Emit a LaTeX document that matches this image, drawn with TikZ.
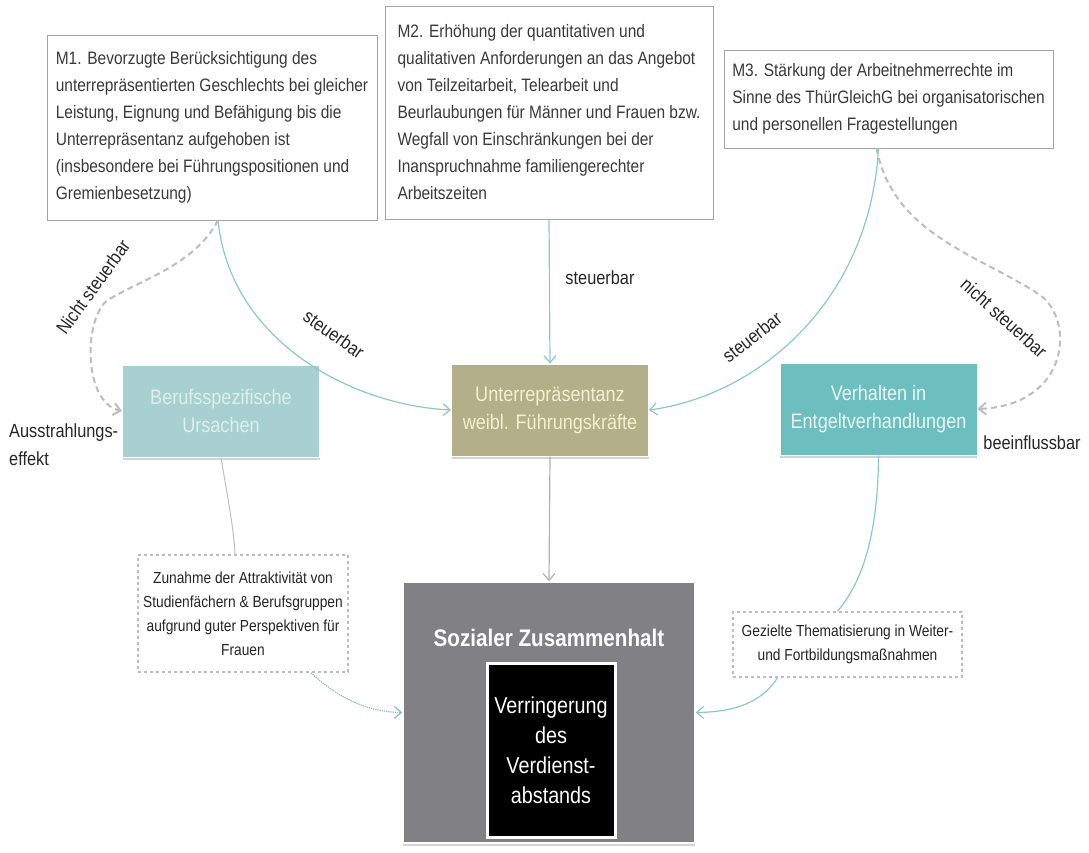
\documentclass[tikz,border=0pt]{standalone}
\usepackage{fontspec}
\setmainfont{Liberation Sans}
\newfontfamily\narrowsans{Liberation Sans}[FakeStretch=0.86]
\usetikzlibrary{arrows.meta,shadows}
\definecolor{mframe}{HTML}{A6A6A6}
\definecolor{mtext}{HTML}{3A3A3A}
\definecolor{berufFill}{HTML}{A9D0D1}
\definecolor{berufText}{HTML}{DDEEEE}
\definecolor{unterFill}{HTML}{B3AF88}
\definecolor{unterText}{HTML}{F3F0D2}
\definecolor{verhFill}{HTML}{6CBFBE}
\definecolor{verhText}{HTML}{EAF6F6}
\definecolor{sozFill}{HTML}{808085}
\definecolor{tealline}{HTML}{8DC9C2}
\definecolor{dashgray}{HTML}{BDBDBD}
\begin{document}
\begin{tikzpicture}[x=1pt,y=-1pt,
  mbox/.style = {draw=mframe, fill=white, text=mtext, align=left, inner sep=0pt,
    font=\narrowsans\fontsize{18}{27}\selectfont},
  cause/.style = {draw=white, line width=1pt, inner sep=0pt, align=center,
    minimum width=197, minimum height=92,
    drop shadow={shadow xshift=0pt, shadow yshift=-3pt, opacity=.35},
    font=\narrowsans\fontsize{21}{28}\selectfont},
  effect/.style = {draw=dashgray, dashed, line width=1.5pt, fill=white, align=center,
    text=black!85, inner sep=0pt, font=\narrowsans\fontsize{16}{24}\selectfont},
  lbl/.style = {text=black!85, inner sep=1pt, font=\narrowsans\fontsize{19}{28}\selectfont},
  link/.style = {draw=tealline, line width=1.2pt, -{Straight Barb[length=7pt,width=12pt]}},
  nolink/.style = {draw=dashgray, dashed, line width=2pt, dash pattern=on 6pt off 4pt,
    -{Straight Barb[length=7pt,width=12pt]}}]
\useasboundingbox (0,0) rectangle (1089,852);

\node[mbox, minimum width=330, minimum height=185] (m1) at (212,127.5)
  {M1. Bevorzugte Berücksichtigung des\\unterrepräsentierten Geschlechts bei gleicher\\Leistung, Eignung und Befähigung bis die\\Unterrepräsentanz aufgehoben ist\\(insbesondere bei Führungspositionen und\\Gremienbesetzung)};
\node[mbox, minimum width=328, minimum height=213] (m2) at (549,112.5)
  {M2. Erhöhung der quantitativen und\\qualitativen Anforderungen an das Angebot\\von Teilzeitarbeit, Telearbeit und\\Beurlaubungen für Männer und Frauen bzw.\\Wegfall von Einschränkungen bei der\\Inanspruchnahme familiengerechter\\Arbeitszeiten};
\node[mbox, minimum width=329, minimum height=98] (m3) at (888.5,99)
  {M3. Stärkung der Arbeitnehmerrechte im\\Sinne des ThürGleichG bei organisatorischen\\und personellen Fragestellungen};

\node[cause, fill=berufFill, text=berufText] (beruf) at (221,411) {Berufsspezifische\\Ursachen};
\node[cause, fill=unterFill, text=unterText] (unter) at (550,410) {Unterrepräsentanz\\weibl. Führungskräfte};
\node[cause, fill=verhFill, text=verhText] (verh) at (878.5,409) {Verhalten in\\Entgeltverhandlungen};

\node[draw=white, line width=1.5pt, fill=sozFill, minimum width=292, minimum height=261,
  drop shadow={shadow xshift=0pt, shadow yshift=-3pt, opacity=.35}] (soz) at (549,712.5) {};
\node[text=white, font=\narrowsans\bfseries\fontsize{24}{28}\selectfont] (sozt) at (549,638) {Sozialer Zusammenhalt};
\node[draw=white, line width=3pt, fill=black, text=white, align=center, inner sep=0pt,
  minimum width=128, minimum height=174, font=\narrowsans\fontsize{23}{30}\selectfont] (gap) at (551,750)
  {Verringerung\\des\\Verdienst-\\abstands};

\node[effect, minimum width=210, minimum height=117] (zun) at (243,613.5)
  {Zunahme der Attraktivität von\\Studienfächern \& Berufsgruppen\\aufgrund guter Perspektiven für\\Frauen};
\node[effect, minimum width=229, minimum height=65] (gez) at (847.5,644.5)
  {Gezielte Thematisierung in Weiter-\\und Fortbildungsmaßnahmen};

\coordinate (b1) at (108,300);
\coordinate (b2) at (1040,295);
\draw[link] ([xshift=6]m1.south) .. controls (230,340) and (350,405) .. (unter.west);
\draw[nolink] ([xshift=6]m1.south) .. controls (195,265) and (140,280) .. (b1)
  .. controls (84,316) and (82,402) .. (beruf.west);
\draw[link] (m2.south) -- (unter.north);
\draw[link] ([xshift=-10]m3.south) .. controls (870,300) and (760,395) .. (unter.east);
\draw[nolink] ([xshift=-12]m3.south) .. controls (893,235) and (980,255) .. (b2)
  .. controls (1075,320) and (1070,405) .. (verh.east);
\draw[draw=black!25, line width=1pt] (beruf.south) .. controls (228,500) and (234,530) .. ([xshift=-8]zun.north);
\draw[link, draw=tealline!80!gray, densely dotted] ([xshift=68]zun.south) .. controls (340,700) and (370,712) .. (soz.west);
\draw[link, draw=black!30] (unter.south) -- (soz.north);
\draw[draw=tealline, line width=1.2pt] (verh.south) .. controls (878,540) and (860,585) .. ([xshift=-10]gez.north);
\draw[link] ([xshift=-70]gez.south) .. controls (760,705) and (730,712) .. (soz.east);

\node[lbl, rotate=54] (ns1) at (93,287) {Nicht steuerbar};
\node[lbl, rotate=-35] (st1) at (334,334) {steuerbar};
\node[lbl] (st2) at (600,278) {steuerbar};
\node[lbl, rotate=38] (st3) at (752,337) {steuerbar};
\node[lbl, rotate=-42] (ns2) at (1004,318) {nicht steuerbar};
\node[lbl] (bee) at (1032,443) {beeinflussbar};
\node[lbl, anchor=west, align=left] (aus) at (8,445) {Ausstrahlungs-\\effekt};
\end{tikzpicture}
\end{document}
